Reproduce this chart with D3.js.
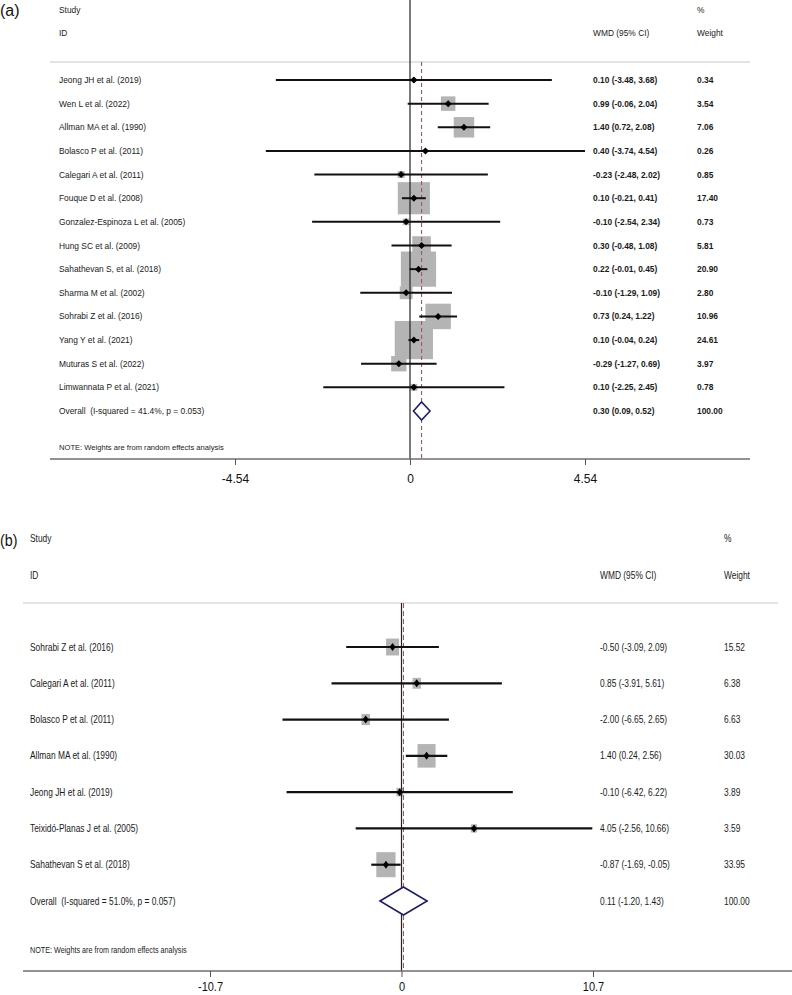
<!DOCTYPE html>
<html><head><meta charset="utf-8">
<script src="https://cdn.jsdelivr.net/npm/d3@7"></script>
<style>
body{margin:0;background:#fff}
svg{display:block}
text{font-family:"Liberation Sans",Arial,sans-serif;white-space:pre}
</style>
</head><body><svg id="c" width="792" height="995"></svg>
<script>
// ---------- Panel (a) data ----------
const studiesA = ["Jeong JH et al. (2019)","Wen L et al. (2022)","Allman MA et al. (1990)","Bolasco P et al. (2011)",
  "Calegari A et al. (2011)","Fouque D et al. (2008)","Gonzalez-Espinoza L et al. (2005)","Hung SC et al. (2009)",
  "Sahathevan S, et al. (2018)","Sharma M et al. (2002)","Sohrabi Z et al. (2016)","Yang Y et al. (2021)",
  "Muturas S et al. (2022)","Limwannata P et al. (2021)"];
const esA     = [0.10, 0.99, 1.40, 0.40, -0.23, 0.10, -0.10, 0.30, 0.22, -0.10, 0.73, 0.10, -0.29, 0.10];
const lowA    = [-3.48, -0.06, 0.72, -3.74, -2.48, -0.21, -2.54, -0.48, -0.01, -1.29, 0.24, -0.04, -1.27, -2.25];
const highA   = [3.68, 2.04, 2.08, 4.54, 2.02, 0.41, 2.34, 1.08, 0.45, 1.09, 1.22, 0.24, 0.69, 2.45];
const weightA = [0.34, 3.54, 7.06, 0.26, 0.85, 17.40, 0.73, 5.81, 20.90, 2.80, 10.96, 24.61, 3.97, 0.78];
const overallLabelA = "Overall  (I-squared = 41.4%, p = 0.053)";
const overallA = [0.30, 0.09, 0.52, 100.00]; // es, low, high, weight
const tickValuesA = [-4.54, 0, 4.54];
const tickLabelsA = ["-4.54", "0", "4.54"];

// ---------- Panel (b) data ----------
const studiesB = ["Sohrabi Z et al. (2016)","Calegari A et al. (2011)","Bolasco P et al. (2011)","Allman MA et al. (1990)",
  "Jeong JH et al. (2019)","Teixidó-Planas J et al. (2005)","Sahathevan S et al. (2018)"];
const esB     = [-0.50, 0.85, -2.00, 1.40, -0.10, 4.05, -0.87];
const lowB    = [-3.09, -3.91, -6.65, 0.24, -6.42, -2.56, -1.69];
const highB   = [2.09, 5.61, 2.65, 2.56, 6.22, 10.66, -0.05];
const weightB = [15.52, 6.38, 6.63, 30.03, 3.89, 3.59, 33.95];
const overallLabelB = "Overall  (I-squared = 51.0%, p = 0.057)";
const overallB = [0.11, -1.20, 1.43, 100.00];
const tickValuesB = [-10.7, 0, 10.7];
const tickLabelsB = ["-10.7", "0", "10.7"];

const headerTexts = {study:"Study", id:"ID", pct:"%", wmd:"WMD (95% CI)", weight:"Weight",
  note:"NOTE: Weights are from random effects analysis"};

const svg = d3.select("#c");

function txt(g, x, y, s, size, sx, opts={}) {
  const t = g.append("text")
    .attr("transform", `translate(${x},${y}) scale(${sx},1)`)
    .attr("font-size", size)
    .attr("fill", opts.fill || "#1a1a1a")
    .text(s);
  if (opts.weight) t.attr("font-weight", opts.weight);
  if (opts.anchor) t.attr("text-anchor", opts.anchor);
  return t;
}

function panel(D, L) {
  const g = svg.append("g");
  const n = D.studies.length;
  const x = d3.scaleLinear().domain([D.ticks[0], D.ticks[2]]).range(L.xr);
  const y = d3.scaleLinear().domain([0, n]).range([L.y0, L.y1]);
  const f2 = v => v.toFixed(2);

  // tag
  txt(g, 0, L.tagY, L.tag, L.tagSize, L.sx, {fill:"#111"});
  // header
  txt(g, L.labelX, L.studyY + L.fs*0.36, headerTexts.study, L.fs, L.sx);
  txt(g, L.labelX, L.idY + L.fs*0.36, headerTexts.id, L.fs, L.sx);
  txt(g, L.wX, L.studyY + L.fs*0.36, headerTexts.pct, L.fs, L.sx);
  txt(g, L.wmdX, L.idY + L.fs*0.36, headerTexts.wmd, L.fs, L.sx);
  txt(g, L.wX, L.idY + L.fs*0.36, headerTexts.weight, L.fs, L.sx);
  g.append("line").attr("x1", L.lineX[0]).attr("x2", L.lineX[1])
    .attr("y1", L.headLine).attr("y2", L.headLine)
    .attr("stroke", "#c9c9c9").attr("stroke-width", 1.2);

  // boxes
  D.studies.forEach((s, i) => {
    const bw = L.kx * Math.sqrt(D.w[i]), bh = L.ky * Math.sqrt(D.w[i]);
    g.append("rect").attr("x", x(D.es[i]) - bw/2).attr("y", y(i) - bh/2)
      .attr("width", bw).attr("height", bh).attr("fill", "#b4b4b4");
  });

  // zero line
  g.append("line").attr("x1", x(0)).attr("x2", x(0)).attr("y1", L.zeroTop).attr("y2", L.axisY)
    .attr("stroke", "#222").attr("stroke-width", 1.2);
  // overall dashed line
  g.append("line").attr("x1", x(D.overall[0])).attr("x2", x(D.overall[0]))
    .attr("y1", L.headLine).attr("y2", L.axisY)
    .attr("stroke", "#a05862").attr("stroke-width", 1.1).attr("stroke-dasharray", L.dash);

  // CI lines, markers, text
  D.studies.forEach((s, i) => {
    const yy = y(i);
    g.append("line").attr("x1", x(D.lo[i])).attr("x2", x(D.hi[i])).attr("y1", yy).attr("y2", yy)
      .attr("stroke", "#111").attr("stroke-width", L.ciW);
    const cx = x(D.es[i]);
    g.append("path").attr("d", `M${cx-L.mw},${yy}L${cx},${yy-L.mh}L${cx+L.mw},${yy}L${cx},${yy+L.mh}Z`)
      .attr("fill", "#000");
    txt(g, L.labelX, yy + L.fs*0.36, s, L.fs, L.sx);
    txt(g, L.wmdX, yy + L.fs*0.36, `${f2(D.es[i])} (${f2(D.lo[i])}, ${f2(D.hi[i])})`, L.fs, L.sx, {weight:L.numWeight});
    txt(g, L.wX, yy + L.fs*0.36, f2(D.w[i]), L.fs, L.sx, {weight:L.numWeight});
  });

  // overall diamond
  const yo = y(n), o = D.overall;
  g.append("path")
    .attr("d", `M${x(o[1])},${yo}L${x(o[0])},${yo-L.dh}L${x(o[2])},${yo}L${x(o[0])},${yo+L.dh}Z`)
    .attr("fill", "#fff").attr("stroke", "#1b1f6b").attr("stroke-width", 1.6);
  txt(g, L.labelX, yo + L.fs*0.36, D.overallLabel, L.fs, L.sx);
  txt(g, L.wmdX, yo + L.fs*0.36, `${f2(o[0])} (${f2(o[1])}, ${f2(o[2])})`, L.fs, L.sx, {weight:L.numWeight});
  txt(g, L.wX, yo + L.fs*0.36, f2(o[3]), L.fs, L.sx, {weight:L.numWeight});

  // note
  txt(g, L.labelX, L.noteY + L.noteFs*0.36, headerTexts.note, L.noteFs, L.sx);

  // axis
  g.append("line").attr("x1", L.axisX[0]).attr("x2", L.axisX[1]).attr("y1", L.axisY).attr("y2", L.axisY)
    .attr("stroke", "#6e6e6e").attr("stroke-width", 1.5);
  const ax = d3.axisBottom(x).tickValues(D.ticks).tickFormat((d, i) => D.tickLabels[i]).tickSize(6).tickPadding(0);
  const ag = g.append("g").attr("transform", `translate(0,${L.axisY})`).call(ax);
  ag.select(".domain").remove();
  ag.selectAll(".tick line").attr("stroke", "#555").attr("stroke-width", 1);
  ag.selectAll(".tick text").attr("font-size", L.tickFs).attr("fill", "#111")
    .attr("font-family", '"Liberation Sans",Arial,sans-serif')
    .attr("dy", null).attr("y", L.tickLabY - L.axisY)
    .attr("transform", `scale(${L.sxTick},1)`)
    .attr("x", 0);
}

panel({studies:studiesA, es:esA, lo:lowA, hi:highA, w:weightA, overall:overallA, overallLabel:overallLabelA,
       ticks:tickValuesA, tickLabels:tickLabelsA},
  {xr:[235,585], y0:80, y1:411, labelX:59, wmdX:593, wX:697, studyY:10, idY:33, headLine:62,
   lineX:[50,750], axisX:[50,750], noteY:447, axisY:459, tickLabY:483, zeroTop:0,
   fs:8.4, noteFs:7.6, sx:1, kx:7.7, ky:7.7, dh:9, mw:3.5, mh:3.5, ciW:2, dash:"4,3",
   tag:"(a)", tagY:16, tagSize:16, tickFs:12, sxTick:1, numWeight:"bold"});

panel({studies:studiesB, es:esB, lo:lowB, hi:highB, w:weightB, overall:overallB, overallLabel:overallLabelB,
       ticks:tickValuesB, tickLabels:tickLabelsB},
  {xr:[210,593], y0:647, y1:901, labelX:30, wmdX:600, wX:724, studyY:538, idY:575, headLine:603,
   lineX:[23,778], axisX:[23,792], noteY:950, axisY:971, tickLabY:991, zeroTop:603,
   fs:10, noteFs:8.6, sx:0.84, kx:3.3, ky:4.3, dh:14, mw:3, mh:4, ciW:2.2, dash:"5,3",
   tag:"(b)", tagY:546, tagSize:17, tickFs:12.5, sxTick:0.88, numWeight:null});
</script>
</body></html>
